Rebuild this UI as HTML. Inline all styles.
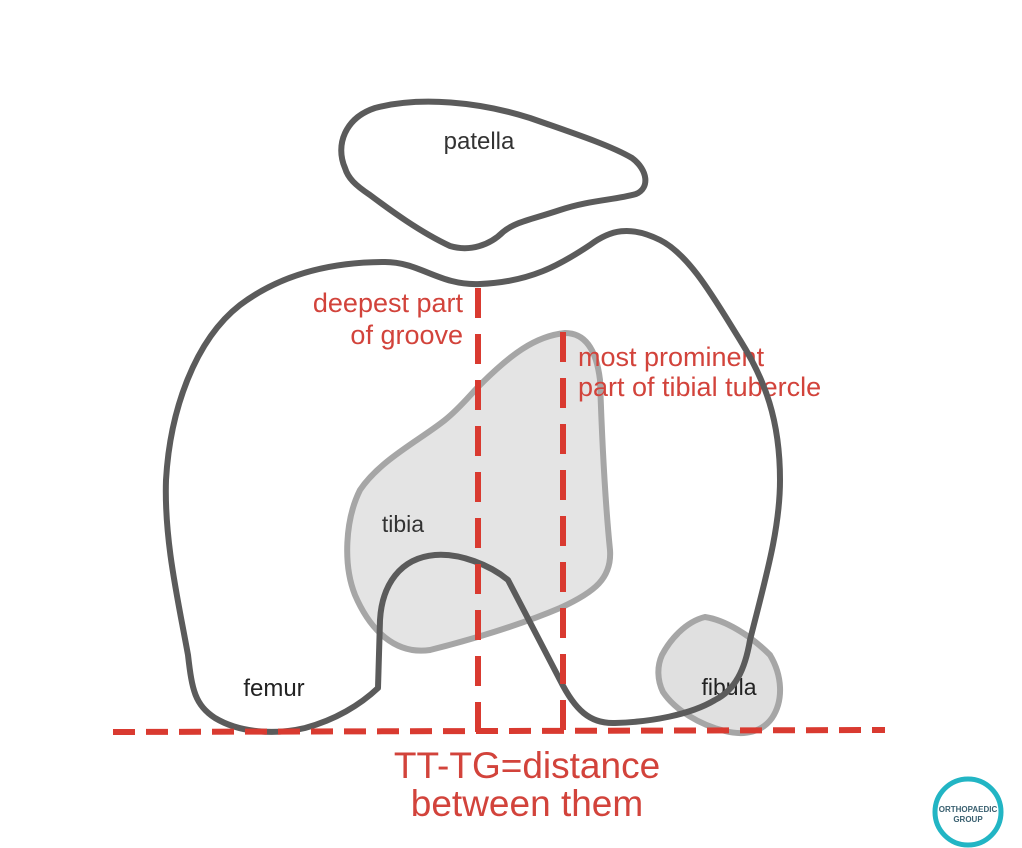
<!DOCTYPE html>
<html><head><meta charset="utf-8"><style>
html,body{margin:0;padding:0;background:#fff;}
svg{display:block;}
text{font-family:"Liberation Sans",Arial,sans-serif;}
</style></head><body>
<svg width="1022" height="848" viewBox="0 0 1022 848" xmlns="http://www.w3.org/2000/svg">
<rect width="1022" height="848" fill="#fff"/>
<!-- tibia -->
<path d="M480,385 C510,355 535,336 565,333 C588,333 597,355 600,380 C602,440 605,500 610,550 C612,578 595,592 560,608 C520,625 470,640 430,650 C395,655 370,630 355,595 C343,565 345,520 360,490 C380,460 420,440 445,420 C460,408 470,395 480,385 Z" fill="#e4e4e4" stroke="#a6a6a6" stroke-width="6"/>
<!-- fibula -->
<path d="M662,655 C670,640 685,622 705,617 C725,620 750,635 770,655 C782,675 784,700 772,718 C762,732 745,736 725,731 C700,725 675,710 663,692 C657,680 657,666 662,655 Z" fill="#e0e0e0" stroke="#a6a6a6" stroke-width="6"/>
<!-- text under lines -->
<text x="479" y="149" font-size="24" fill="#333" text-anchor="middle">patella</text>
<text x="403" y="532" font-size="23" fill="#333" text-anchor="middle">tibia</text>
<text x="274" y="696" font-size="24" fill="#222" text-anchor="middle">femur</text>
<text x="729" y="695" font-size="23" fill="#222" text-anchor="middle">fibula</text>
<g fill="#d2433b" font-size="27">
<text x="463" y="312" text-anchor="end">deepest part</text>
<text x="463" y="344" text-anchor="end">of groove</text>
<text x="578" y="366">most prominent</text>
<text x="578" y="396">part of tibial tubercle</text>
</g>
<!-- patella -->
<path d="M345,168 C335,145 345,118 375,108 C420,96 480,102 530,118 C570,132 610,145 632,158 C648,170 650,188 636,194 C615,200 590,200 560,210 C530,220 515,222 503,232 C490,245 470,252 450,246 C420,232 390,210 370,195 C355,185 348,178 345,168 Z" fill="none" stroke="#5b5b5b" stroke-width="6"/>
<!-- femur -->
<path d="M378,688 L380,620 C382,585 400,558 435,555 C460,553 490,565 508,580 L560,680 C575,710 590,724 615,723 C650,722 690,715 715,700 C735,690 745,670 750,640 C765,580 780,530 780,480 C780,420 765,380 740,340 C715,300 690,255 660,240 C630,225 610,230 590,245 C560,265 530,282 480,284 C440,286 420,262 385,262 C330,262 280,275 240,305 C195,340 170,410 166,480 C164,540 178,600 188,655 C192,690 195,705 215,718 C240,733 275,735 305,728 C335,720 360,705 378,688 Z" fill="none" stroke="#5b5b5b" stroke-width="6" stroke-linejoin="round"/>
<!-- dashed lines -->
<g stroke="#d93a30" stroke-width="6" fill="none">
<line x1="113" y1="732" x2="885" y2="730" stroke-dasharray="22,11"/>
<line x1="478" y1="288" x2="478" y2="732" stroke-dasharray="30,16"/>
<line x1="563" y1="332" x2="563" y2="732" stroke-dasharray="30,16"/>
</g>
<g fill="#d2433b" font-size="37" text-anchor="middle">
<text x="527" y="778">TT-TG=distance</text>
<text x="527" y="816">between them</text>
</g>
<!-- logo -->
<circle cx="968" cy="812" r="33" fill="#fff" stroke="#22b5c4" stroke-width="5"/>
<text x="968" y="812" font-size="8" font-weight="bold" fill="#3a6070" text-anchor="middle">ORTHOPAEDIC</text>
<text x="968" y="822" font-size="8" font-weight="bold" fill="#3a6070" text-anchor="middle">GROUP</text>
</svg>
</body></html>
